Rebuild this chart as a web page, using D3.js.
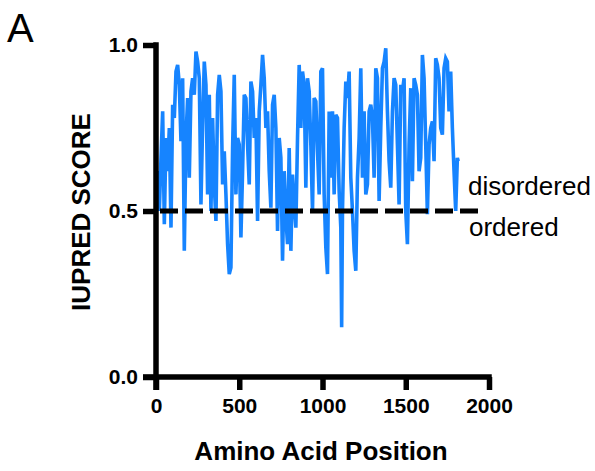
<!DOCTYPE html>
<meta charset="utf-8">
<style>
    html, body {
        margin: 0;
        padding: 0;
        background: #fff;
    }
    svg text {
        font-family: "Liberation Sans", Arial, sans-serif;
    }
</style>
<svg id="chart" width="595" height="471"></svg>
<script src="https://d3js.org/d3.v7.min.js"></script>
<script>
    // residue positions
    const positions = [
        0, 10, 20, 30, 40, 50, 60, 70, 80, 90,
        100, 110, 120, 130, 140, 150, 160, 170, 180, 190,
        200, 210, 220, 230, 240, 250, 260, 270, 280, 290,
        300, 310, 320, 330, 340, 350, 360, 370, 380, 390,
        400, 410, 420, 430, 440, 450, 460, 470, 480, 490,
        500, 510, 520, 530, 540, 550, 560, 570, 580, 590,
        600, 610, 620, 630, 640, 650, 660, 670, 680, 690,
        700, 710, 720, 730, 740, 750, 760, 770, 780, 790,
        800, 810, 820, 830, 840, 850, 860, 870, 880, 890,
        900, 910, 920, 930, 940, 950, 960, 970, 980, 990,
        1000, 1010, 1020, 1030, 1040, 1050, 1060, 1070, 1080, 1090,
        1100, 1110, 1115, 1120, 1130, 1140, 1150, 1160, 1170, 1180, 1190,
        1200, 1210, 1220, 1230, 1240, 1250, 1260, 1270, 1280, 1290,
        1300, 1310, 1320, 1330, 1340, 1350, 1360, 1370, 1380, 1390,
        1400, 1410, 1420, 1430, 1440, 1450, 1460, 1470, 1480, 1490,
        1500, 1510, 1520, 1530, 1540, 1550, 1560, 1570, 1580, 1590,
        1600, 1610, 1620, 1630, 1640, 1650, 1660, 1670, 1680, 1690,
        1700, 1710, 1720, 1730, 1740, 1750, 1760, 1770, 1780, 1790,
        1800, 1810, 1815
    ];

    // IUPred score at each position
    const scores = [
        0.58, 0.62, 0.50, 0.66, 0.80, 0.46, 0.72, 0.62, 0.75, 0.45,
        0.82, 0.78, 0.92, 0.94, 0.88, 0.71, 0.90, 0.38, 0.72, 0.84,
        0.60, 0.86, 0.90, 0.85, 0.98, 0.95, 0.90, 0.52, 0.76, 0.95,
        0.88, 0.55, 0.85, 0.50, 0.78, 0.58, 0.47, 0.85, 0.91, 0.86,
        0.58, 0.68, 0.55, 0.40, 0.31, 0.33, 0.69, 0.91, 0.55, 0.72,
        0.70, 0.42, 0.62, 0.85, 0.84, 0.70, 0.58, 0.89, 0.86, 0.72,
        0.78, 0.47, 0.80, 0.88, 0.97, 0.90, 0.75, 0.80, 0.62, 0.51,
        0.82, 0.85, 0.75, 0.44, 0.72, 0.66, 0.35, 0.62, 0.48, 0.40,
        0.69, 0.38, 0.61, 0.52, 0.45, 0.72, 0.94, 0.75, 0.92, 0.88,
        0.57, 0.90, 0.86, 0.70, 0.50, 0.84, 0.83, 0.68, 0.55, 0.92,
        0.93, 0.55, 0.39, 0.31, 0.80, 0.60, 0.80, 0.55, 0.79, 0.78,
        0.56, 0.45, 0.15, 0.50, 0.75, 0.89, 0.84, 0.92, 0.60, 0.50, 0.38,
        0.32, 0.60, 0.72, 0.93, 0.60, 0.80, 0.55, 0.58, 0.80, 0.82,
        0.78, 0.60, 0.93, 0.90, 0.53, 0.75, 0.93, 0.95, 0.99, 0.80,
        0.65, 0.57, 0.80, 0.90, 0.88, 0.70, 0.52, 0.88, 0.86, 0.90,
        0.50, 0.40, 0.70, 0.87, 0.59, 0.90, 0.88, 0.85, 0.62, 0.66,
        0.97, 0.90, 0.70, 0.49, 0.70, 0.75, 0.77, 0.65, 0.96, 0.94,
        0.90, 0.75, 0.73, 0.93, 0.96, 0.95, 0.80, 0.92, 0.75, 0.62,
        0.50, 0.66, 0.65
    ];

    const xTicks = [0, 500, 1000, 1500, 2000];
    const yTicks = [0, 0.5, 1.0];
    const threshold = 0.5;

    const svg = d3.select("#chart");

    const x = d3.scaleLinear().domain([0, 2000]).range([156, 489]);
    const y = d3.scaleLinear().domain([0, 1]).range([377, 45]);

    const axisWidth = 5.5,
        tickLen = 13;

    // data line
    const data = positions.map((p, i) => ({pos: p, score: scores[i]}));
    const line = d3.line()
        .x(d => x(d.pos))
        .y(d => y(d.score));

    svg.append("path")
        .datum(data)
        .attr("fill", "none")
        .attr("stroke", "#1684ff")
        .attr("stroke-width", 3.6)
        .attr("d", line);

    // disorder threshold
    svg.append("line")
        .attr("x1", x(0) + 4)
        .attr("x2", 478)
        .attr("y1", y(threshold))
        .attr("y2", y(threshold))
        .attr("stroke", "#000")
        .attr("stroke-width", 5)
        .attr("stroke-dasharray", "18,7");

    // axes
    const yAxis = svg.append("g")
        .attr("transform", `translate(${x(0)},0)`)
        .call(d3.axisLeft(y).tickValues(yTicks).tickFormat(d3.format(".1f"))
            .tickSize(tickLen).tickSizeOuter(0).tickPadding(5));

    const xAxis = svg.append("g")
        .attr("transform", `translate(0,${y(0)})`)
        .call(d3.axisBottom(x).tickValues(xTicks).tickFormat(d3.format("d"))
            .tickSize(tickLen).tickSizeOuter(0).tickPadding(8));

    [yAxis, xAxis].forEach(g => {
        g.select(".domain").remove();
        g.selectAll(".tick line")
            .attr("stroke", "#000")
            .attr("stroke-width", axisWidth);
        g.selectAll(".tick text")
            .attr("fill", "#000")
            .style("font-size", "21px")
            .style("font-weight", "bold");
    });

    // axis lines run past the origin by one tick length
    svg.append("line")
        .attr("x1", x(0)).attr("x2", x(0))
        .attr("y1", y(1) - axisWidth / 2).attr("y2", y(0) + tickLen)
        .attr("stroke", "#000").attr("stroke-width", axisWidth);
    svg.append("line")
        .attr("x1", x(0) - tickLen).attr("x2", x(2000) + axisWidth / 2)
        .attr("y1", y(0)).attr("y2", y(0))
        .attr("stroke", "#000").attr("stroke-width", axisWidth);

    // titles
    svg.append("text")
        .attr("x", 321)
        .attr("y", 460)
        .attr("text-anchor", "middle")
        .style("font-size", "26px")
        .style("font-weight", "bold")
        .text("Amino Acid Position");

    svg.append("text")
        .attr("transform", "translate(90,212) rotate(-90)")
        .attr("text-anchor", "middle")
        .style("font-size", "26px")
        .style("font-weight", "bold")
        .text("IUPRED SCORE");

    svg.append("text")
        .attr("x", 7)
        .attr("y", 42)
        .style("font-size", "40px")
        .text("A");

    svg.append("text")
        .attr("x", 468)
        .attr("y", 195)
        .style("font-size", "26px")
        .text("disordered");

    svg.append("text")
        .attr("x", 469)
        .attr("y", 236)
        .style("font-size", "26px")
        .text("ordered");
</script>
